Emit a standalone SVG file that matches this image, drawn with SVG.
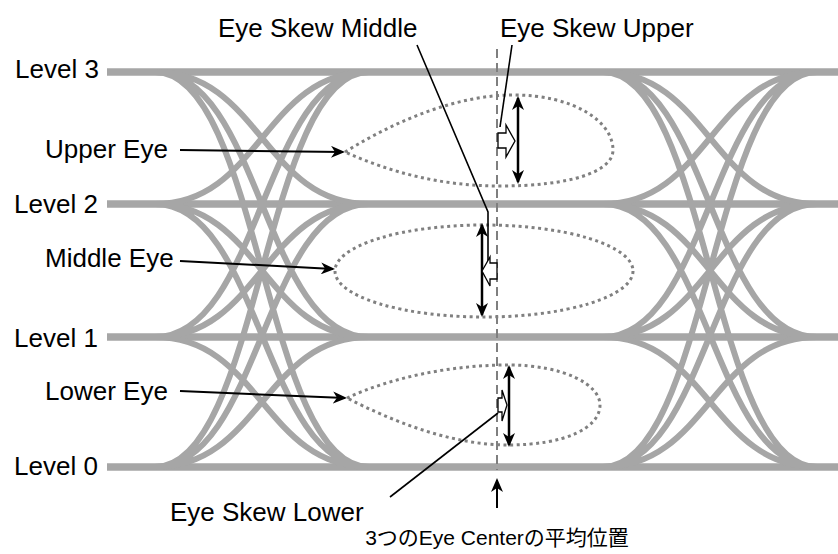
<svg xmlns="http://www.w3.org/2000/svg" width="838" height="554" viewBox="0 0 838 554">
<style>
.lbl{font-family:"Liberation Sans",Arial,sans-serif;font-size:26px;fill:#000}
.jp{font-family:"Liberation Sans","Noto Sans CJK JP",sans-serif;font-size:21px;fill:#000}
.bar{stroke:#A6A6A6;stroke-width:7.5;fill:none}
.tr{stroke:#A6A6A6;stroke-width:6;fill:none}
.eye{stroke:#808080;stroke-width:3;stroke-dasharray:3 3.5;fill:none}
.lead{stroke:#000;stroke-width:2;fill:none}
.dbl{stroke:#000;stroke-width:2.5;fill:none;marker-start:url(#ah);marker-end:url(#ah)}
.blk{fill:#fff;stroke:#000;stroke-width:1.3;stroke-linejoin:miter}
</style>
<defs>
<marker id="ah" viewBox="0 0 14 12" refX="12" refY="6" markerWidth="14" markerHeight="12" markerUnits="userSpaceOnUse" orient="auto-start-reverse">
<path d="M0,0 L14,6 L0,12 L4,6 Z" fill="#000"/>
</marker>
</defs>
<g id="levels">
<line class="bar" x1="107" y1="72" x2="838" y2="72"/>
<line class="bar" x1="107" y1="204" x2="838" y2="204"/>
<line class="bar" x1="107" y1="337" x2="838" y2="337"/>
<line class="bar" x1="107" y1="467" x2="838" y2="467"/>
</g>
<g id="transitions-left">
<path class="tr" d="M155,72 C260,72 264,204 369,204 M155,72 C260,72 264,337 369,337 M155,72 C260,72 264,467 369,467 M155,204 C260,204 264,72 369,72 M155,204 C260,204 264,337 369,337 M155,204 C260,204 264,467 369,467 M155,337 C260,337 264,72 369,72 M155,337 C260,337 264,204 369,204 M155,337 C260,337 264,467 369,467 M155,467 C260,467 264,72 369,72 M155,467 C260,467 264,204 369,204 M155,467 C260,467 264,337 369,337"/>
</g>
<g id="transitions-right">
<path class="tr" d="M603,72 C708,72 712,204 817,204 M603,72 C708,72 712,337 817,337 M603,72 C708,72 712,467 817,467 M603,204 C708,204 712,72 817,72 M603,204 C708,204 712,337 817,337 M603,204 C708,204 712,467 817,467 M603,337 C708,337 712,72 817,72 M603,337 C708,337 712,204 817,204 M603,337 C708,337 712,467 817,467 M603,467 C708,467 712,72 817,72 M603,467 C708,467 712,204 817,204 M603,467 C708,467 712,337 817,337"/>
</g>
<g id="upper-eye">
<path class="eye" d="M345,152 C400,118 460,95 513,95 C575,95 613,122 613,150 C613,172 570,186 500,186 C440,186 390,172 345,152 Z"/>
</g>
<g id="middle-eye">
<ellipse class="eye" cx="484" cy="271" rx="149" ry="46"/>
</g>
<g id="lower-eye">
<path class="eye" d="M347,398 C390,378 450,365 508,365 C565,365 600,385 600,405 C600,428 565,445 508,445 C450,445 390,420 347,398 Z"/>
</g>
<g id="center-line">
<line x1="497" y1="49" x2="497" y2="470" stroke="#7F7F7F" stroke-width="2" stroke-dasharray="9 5"/>
</g>
<g id="labels">
<text class="lbl" x="15" y="78">Level 3</text>
<text class="lbl" x="14" y="213">Level 2</text>
<text class="lbl" x="14" y="347">Level 1</text>
<text class="lbl" x="14" y="475">Level 0</text>
<text class="lbl" x="45" y="158">Upper Eye</text>
<text class="lbl" x="45" y="267">Middle Eye</text>
<text class="lbl" x="45" y="400">Lower Eye</text>
<text class="lbl" x="218" y="37">Eye Skew Middle</text>
<text class="lbl" x="500" y="37">Eye Skew Upper</text>
<text class="lbl" x="170" y="521">Eye Skew Lower</text>
<text class="jp" x="497" y="545" text-anchor="middle">3つのEye Centerの平均位置</text>
</g>
<g id="connectors">
<line class="lead" x1="180" y1="150" x2="343" y2="152" marker-end="url(#ah)"/>
<line class="lead" x1="180" y1="261" x2="333" y2="269" marker-end="url(#ah)"/>
<line class="lead" x1="180" y1="391" x2="345" y2="398" marker-end="url(#ah)"/>
<line class="lead" x1="497" y1="508" x2="497" y2="480" marker-end="url(#ah)"/>
<polyline fill="none" stroke="#000" stroke-width="1.6" points="417,45 488,212 488,262"/>
<line stroke="#000" stroke-width="1.6" x1="512" y1="45" x2="500" y2="127"/>
<line stroke="#000" stroke-width="1.6" x1="390" y1="497" x2="498" y2="413"/>
<line class="dbl" x1="518" y1="98" x2="518" y2="182"/>
<line class="dbl" x1="482" y1="225" x2="482" y2="315"/>
<line class="dbl" x1="509" y1="367" x2="509" y2="445"/>
</g>
<g id="skew-arrows">
<polygon class="blk" points="498,133 506,133 506,125 515,141 506,157 506,148 498,148"/>
<polygon class="blk" points="482,271 490,257 490,263 497,263 497,279 490,279 490,286"/>
<polygon class="blk" points="498,398 502,398 502,390 507,405 502,421 502,412 498,412"/>
</g>
</svg>
